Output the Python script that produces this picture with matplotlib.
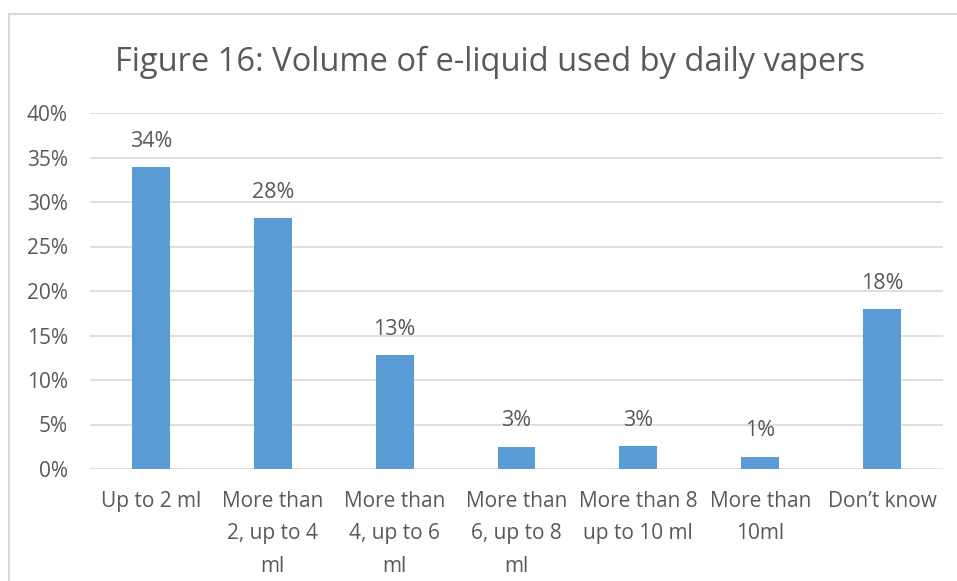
import matplotlib.pyplot as plt
from matplotlib.lines import Line2D
from matplotlib.ticker import MultipleLocator, FuncFormatter

# data
categories = ['Up to 2 ml', 'More than\n2, up to 4\nml', 'More than\n4, up to 6\nml',
              'More than\n6, up to 8\nml', 'More than 8\nup to 10 ml', 'More than\n10ml',
              'Don\u2019t know']
values = [33.9, 28.2, 12.8, 2.5, 2.6, 1.4, 18.0]
labels = ['34%', '28%', '13%', '3%', '3%', '1%', '18%']

W, H = 957, 581
text_color = '#595959'
grid_color = '#d9d9d9'
bar_color = '#5b9bd5'

plt.rcParams['font.family'] = ['Open Sans', 'DejaVu Sans']

fig = plt.figure(figsize=(W / 100, H / 100), dpi=100)
fig.patch.set_facecolor('white')

# chart border (left and top edges visible)
fig.add_artist(Line2D([9 / W, 9 / W], [0, 1 - 14 / H], color=grid_color, lw=1.5))
fig.add_artist(Line2D([9 / W, 1], [1 - 14 / H, 1 - 14 / H], color=grid_color, lw=1.5))

ax = fig.add_axes([90 / W, (H - 469) / H, 853 / W, 356 / H])
x = range(len(categories))
ax.bar(x, values, width=0.31, color=bar_color, zorder=3)

for xi, v, lab in zip(x, values, labels):
    ax.annotate(lab, (xi, v), xytext=(0, 11), textcoords='offset points',
                ha='center', va='bottom', fontsize=15.5, color=text_color)

ax.set_xlim(-0.5, len(categories) - 0.5)
ax.set_ylim(0, 40)
ax.yaxis.set_major_locator(MultipleLocator(5))
ax.yaxis.set_major_formatter(FuncFormatter(lambda v, p: f'{v:.0f}%'))
ax.grid(axis='y', color=grid_color, lw=1.2, zorder=0)
ax.set_xticks(list(x))
ax.set_xticklabels(categories, linespacing=1.7, va='top')

for s in ['top', 'right', 'left', 'bottom']:
    ax.spines[s].set_visible(False)
ax.tick_params(axis='both', length=0, labelsize=15, colors=text_color)
ax.tick_params(axis='x', pad=16)
ax.tick_params(axis='y', pad=16)

fig.text(490 / W, 1 - 62 / H, 'Figure 16: Volume of e-liquid used by daily vapers',
         ha='center', va='center', fontsize=23.5, color=text_color)

fig.savefig('out.png', dpi=100)
